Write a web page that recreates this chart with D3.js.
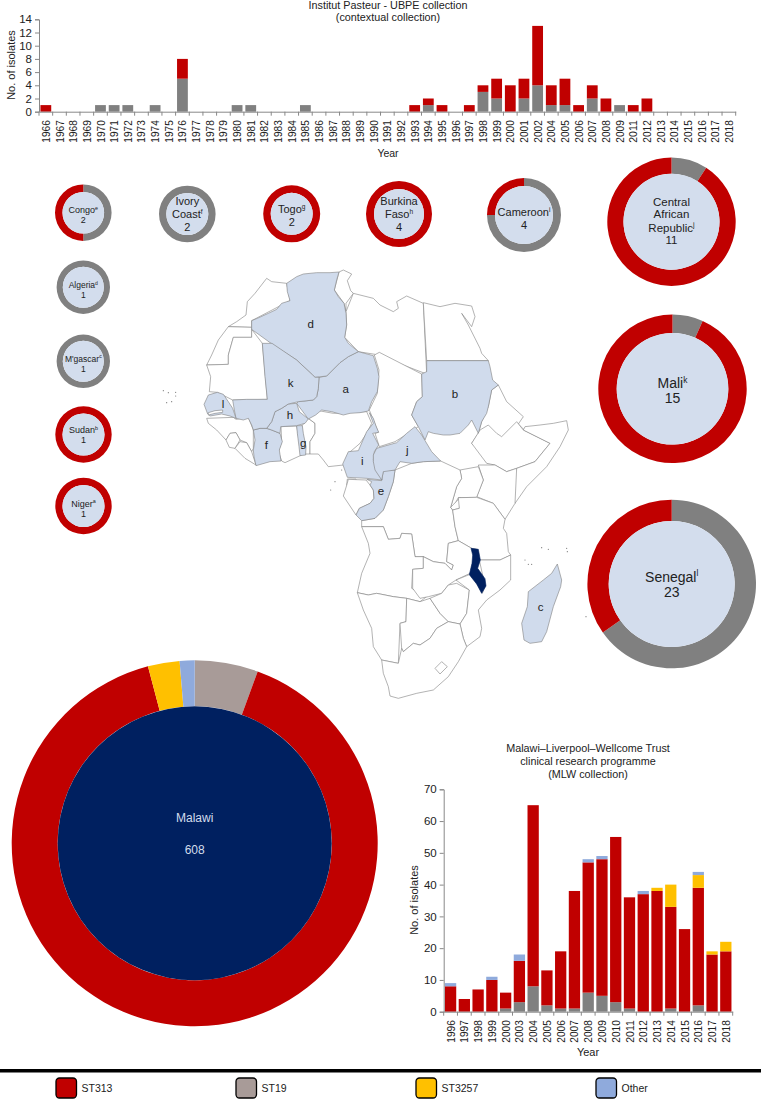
<!DOCTYPE html>
<html>
<head>
<meta charset="utf-8">
<script src="https://cdn.jsdelivr.net/npm/d3@7"></script>
<style>
body { margin: 0; background: #fff; }
svg { display: block; }
text { font-family: "Liberation Sans", Arial, sans-serif; fill: #222; }
</style>
</head>
<body>
<div id="my_dataviz"></div>
<script>
// Institut Pasteur collection, isolates per year
var pasteurYears = ["1966","1967","1968","1969","1970","1971","1972","1973","1974","1975","1976","1977","1978","1979","1980","1981","1982","1983","1984","1985","1986","1987","1988","1989","1990","1991","1992","1993","1994","1995","1996","1997","1998","1999","2000","2001","2002","2004","2005","2006","2007","2008","2009","2011","2012","2013","2014","2015","2016","2017","2018"];
var pasteurGrey = [0,0,0,0,1,1,1,0,1,0,5,0,0,0,1,1,0,0,0,1,0,0,0,0,0,0,0,0,1,0,0,0,3,2,0,2,4,1,1,0,2,0,1,0,0,0,0,0,0,0,0];
var pasteurRed =  [1,0,0,0,0,0,0,0,0,0,3,0,0,0,0,0,0,0,0,0,0,0,0,0,0,0,0,1,1,1,0,1,1,3,4,3,9,3,4,1,2,2,0,1,2,0,0,0,0,0,0];

// MLW collection, isolates per year
var mlwYears = ["1996","1997","1998","1999","2000","2003","2004","2005","2006","2007","2008","2009","2010","2011","2012","2013","2014","2015","2016","2017","2018"];
var mlwGrey =   [0,0,0,0,1,3,8,2,1,1,6,5,3,1,0,0,1,0,2,0,0];
var mlwRed =    [8,4,7,10,5,13,57,11,18,37,41,43,52,35,37,38,32,26,37,18,19];
var mlwYellow = [0,0,0,0,0,0,0,0,0,0,0,0,0,0,0,1,7,0,4,1,3];
var mlwOther =  [1,0,0,1,0,2,0,0,0,0,1,1,0,0,1,0,0,0,1,0,0];

// rings around the map
var countryLines = [["Congo"],["Ivory","Coast"],["Togo"],["Burkina","Faso"],["Cameroon"],["Central","African","Republic"],["Mali"],["Senegal"],["Algeria"],["M'gascar"],["Sudan"],["Niger"]];
var countryNotes = ["e","f","g","h","i","j","k","l","d","c","b","a"];
var countryTotals = [2,2,2,4,4,11,15,23,1,1,1,1];
var countryGrey =   [1,2,0,0,3,1,1,15,1,1,0,0];
var countryRed =    [1,0,2,4,1,10,14,8,0,0,1,1];

// Malawi ring, clockwise from twelve o'clock
var malawiLabels = ["ST19","ST313","ST3257","Other"];
var malawiCounts = [34,549,17,8];
var malawiTotal = 608;

var legendLabels = ["ST313","ST19","ST3257","Other"];

var RED = "#c00000", GREY = "#808080", ST19 = "#a89b98", YELLOW = "#ffc000", BLUE = "#8faadc";
var PALE = "#d3dded", NAVY = "#002060", AXIS = "#888";

var svg = d3.select("#my_dataviz").append("svg")
    .attr("width", 761).attr("height", 1099).attr("viewBox", "0 0 761 1099");

// ring drawing positions, same order as countryLines: cx, cy, outer, inner, font, line baselines
var ringLayout = [
    {cx:83.3, cy:212.7, o:28.3, i:20.8, f:9,  y:[213.3,222.7]},
    {cx:187.3,cy:214,   o:28.3, i:21,   f:11, y:[205,217.7,230.7]},
    {cx:291.7,cy:213.8, o:28.5, i:21,   f:11, y:[212.7,225.7]},
    {cx:399,  cy:214,   o:33,   i:25,   f:11, y:[205,218,231]},
    {cx:524,  cy:215,   o:37,   i:29,   f:11, y:[216,229]},
    {cx:671.5,cy:221.7, o:64.2, i:48,   f:11.5,y:[205.7,218.3,231.7,244.3]},
    {cx:672.5,cy:388.8, o:74.2, i:55.8, f:14, y:[388.3,403.3]},
    {cx:671.7,cy:584,   o:84.3, i:63,   f:14, y:[581.7,596.7]},
    {cx:83.3, cy:287.2, o:26.7, i:20.5, f:8.5,y:[288.3,297.7]},
    {cx:83.3, cy:361.3, o:26.7, i:20.5, f:8.5,y:[361.7,371.7]},
    {cx:83.5, cy:434.5, o:28.2, i:21,   f:9,  y:[433,443]},
    {cx:83.5, cy:506,   o:28.2, i:21,   f:9,  y:[506.7,516.7]}
];

function stackedBars(cfg) {
    var x = d3.scaleBand().domain(cfg.years).range([cfg.left, cfg.right])
        .paddingInner(cfg.pad).paddingOuter(cfg.pad / 2);
    var y = d3.scaleLinear().domain([0, cfg.max]).range([cfg.bottom, cfg.top]);

    var rows = cfg.years.map(function(yr, i) {
        var row = {year: yr};
        cfg.keys.forEach(function(k, j) { row[k] = cfg.series[j][i]; });
        return row;
    });
    var stacked = d3.stack().keys(cfg.keys)(rows);

    svg.append("g").selectAll("g").data(stacked).enter().append("g")
        .attr("fill", function(d, i) { return cfg.colors[i]; })
        .selectAll("rect").data(function(d) { return d; }).enter().append("rect")
        .attr("x", function(d) { return x(d.data.year); })
        .attr("y", function(d) { return y(d[1]); })
        .attr("width", x.bandwidth())
        .attr("height", function(d) { return y(d[0]) - y(d[1]); });

    // year labels hang under the bars, tick marks sit between bars
    var xAxis = svg.append("g").attr("transform", "translate(0," + cfg.bottom + ")")
        .call(d3.axisBottom(x).tickSize(0));
    xAxis.select(".domain").attr("stroke", AXIS);
    xAxis.selectAll("text")
        .attr("transform", "rotate(-90)")
        .attr("text-anchor", "end")
        .attr("x", -8.5).attr("y", 0).attr("dy", "0.35em")
        .attr("font-size", 11.5)
        .attr("textLength", 22.5).attr("lengthAdjust", "spacingAndGlyphs");
    var edges = cfg.years.map(function(d) { return x(d) - x.step() * cfg.pad / 2; });
    edges.push(cfg.right);
    xAxis.selectAll(".edge").data(edges).enter().append("line")
        .attr("class", "edge").attr("stroke", AXIS)
        .attr("x1", function(d) { return d; }).attr("x2", function(d) { return d; })
        .attr("y1", 0).attr("y2", 4);

    var yAxis = svg.append("g").attr("transform", "translate(" + cfg.left + ",0)")
        .call(d3.axisLeft(y).tickValues(cfg.ticks).tickSize(4).tickPadding(3));
    yAxis.selectAll(".domain, line").attr("stroke", AXIS);
    yAxis.selectAll("text").attr("font-size", 11.5);
}

stackedBars({
    years: pasteurYears, keys: ["grey","red"], series: [pasteurGrey, pasteurRed], colors: [GREY, RED],
    left: 39, right: 735.7, top: 19.3, bottom: 111.7, max: 14, ticks: d3.range(0, 15, 2), pad: 0.21
});
stackedBars({
    years: mlwYears, keys: ["grey","red","yellow","other"], series: [mlwGrey, mlwRed, mlwYellow, mlwOther],
    colors: [GREY, RED, YELLOW, BLUE],
    left: 443.7, right: 732.7, top: 789.3, bottom: 1011.7, max: 70, ticks: d3.range(0, 71, 10), pad: 0.18
});

function addText(str, px, py, size, rotate) {
    var t = svg.append("text").attr("text-anchor", "middle").attr("font-size", size).text(str);
    if (rotate) t.attr("transform", "translate(" + px + "," + py + ") rotate(-90)");
    else t.attr("x", px).attr("y", py);
    return t;
}
addText("Institut Pasteur - UBPE collection", 388, 8.5, 10.8);
addText("(contextual collection)", 388, 21, 10.8);
addText("Year", 388, 157, 10.5);
addText("No. of isolates", 15, 65, 11, true);
addText("Malawi\u2013Liverpool\u2013Wellcome Trust", 588, 751.7, 10.8);
addText("clinical research programme", 588, 764.5, 10.8);
addText("(MLW collection)", 588, 777.5, 10.8);
addText("Year", 588, 1055.7, 11);
addText("No. of isolates", 418, 900, 11, true);

// map outlines, each list in the pixel frame of its crop
function frame(x0, y0, pts) {
    return pts.map(function(p) { return [x0 + p[0] / 3, y0 + p[1] / 3]; });
}
function W(pts) { return frame(140, 260, pts); }   // west / north-west
function E(pts) { return frame(340, 270, pts); }   // north-east
function C(pts) { return frame(200, 390, pts); }   // gulf of guinea
function S(pts) { return frame(320, 420, pts); }   // south

var blankShapes = [
    W([[440,70],[395,65],[380,55],[345,100],[322,125],[318,165],[290,185],[265,200],[335,202],[335,182],[450,122]]),
    W([[265,200],[235,240],[215,285],[200,315],[265,313],[265,285],[280,232],[335,232],[335,202]]),
    W([[200,315],[212,350],[208,395],[232,397],[278,420],[382,418],[367,250],[335,208],[335,232],[280,232],[265,285],[265,313]]),
    W([[597,36],[610,30],[635,42],[622,62],[632,92],[640,100],[618,130],[618,155],[612,130],[583,90]]),
    W([[640,100],[700,115],[720,135],[760,155],[775,145],[770,125],[800,108],[850,130],[860,342],[705,283],[655,275],[614,232],[620,195],[618,155]]),
    E([[250,98],[300,110],[345,100],[395,108],[405,140],[395,170],[365,130],[385,165],[420,235],[425,250],[445,272],[260,272]]),
    E([[103,255],[118,247],[245,312],[247,380],[230,395],[215,435],[235,470],[205,490],[165,515],[118,530],[105,490],[115,487],[100,450],[88,420],[112,370],[117,300]]),
    E([[475,345],[500,395],[550,440],[535,462],[555,482],[580,510],[633,522],[600,580],[560,590],[500,590],[440,578],[415,535],[395,520],[415,490],[425,455],[445,410],[455,360]]),
    S([[590,5],[610,30],[690,70],[645,125],[590,145],[560,155],[525,135],[500,130],[470,90],[455,70],[480,30],[505,15],[530,40],[545,50]]),
    S([[610,30],[615,20],[660,15],[700,10],[740,2],[745,30],[720,80],[680,140],[620,200],[585,250],[560,225],[590,145],[645,125],[690,70]]),
    S([[475,135],[490,180],[470,230],[520,250],[555,298],[585,250],[590,145],[560,155],[525,135]]),
    S([[420,150],[475,140],[490,180],[470,232],[415,233],[403,255],[392,262],[410,200],[425,175]]),
    S([[225,150],[275,130],[310,125],[362,123],[420,150],[425,175],[410,200],[392,262],[398,270],[405,320],[415,362],[385,370],[380,425],[400,435],[395,450],[375,430],[340,425],[310,410],[285,410],[275,342],[245,340],[240,355],[205,358],[190,320],[125,320],[125,302],[165,295],[190,270],[205,230],[220,185]]),
    S([[392,262],[420,233],[418,265],[398,270]]),
    S([[415,233],[470,232],[520,250],[555,298],[550,325],[560,340],[565,395],[572,405],[540,420],[478,420],[472,388],[455,385],[415,362],[405,320],[398,270],[418,265]]),
    S([[125,320],[190,320],[205,358],[240,355],[245,340],[275,342],[285,410],[310,410],[310,445],[278,448],[275,505],[320,530],[300,545],[260,535],[220,530],[170,520],[145,525],[112,518],[125,460],[150,400],[145,370]]),
    S([[278,448],[310,445],[310,410],[340,425],[375,430],[395,450],[400,435],[380,425],[385,370],[415,362],[455,385],[462,405],[458,430],[450,460],[408,480],[385,495],[365,520],[325,530],[300,535],[278,505]]),
    S([[112,518],[145,525],[170,520],[220,530],[260,535],[258,605],[240,610],[235,730],[185,720],[160,680],[155,625],[130,570]]),
    S([[260,535],[300,545],[330,535],[360,580],[385,605],[350,625],[330,655],[300,675],[280,670],[250,695],[245,685],[240,610],[258,605]]),
    S([[330,535],[365,520],[385,495],[410,490],[448,510],[440,580],[420,612],[385,605],[360,580]]),
    S([[450,463],[470,490],[487,520],[496,495],[490,475],[478,420],[540,420],[572,405],[572,480],[540,510],[500,540],[475,570],[485,625],[480,650],[440,680],[430,655],[420,612],[440,580],[448,510],[408,480]]),
    S([[185,720],[235,730],[245,685],[250,695],[280,670],[300,675],[330,655],[350,625],[385,605],[420,612],[430,655],[440,680],[415,725],[385,770],[340,810],[290,820],[235,835],[210,828],[205,800],[190,760]]),
    S([[345,745],[365,725],[382,740],[360,762]]),
    C([[305,108],[325,85],[345,100],[345,130],[330,155],[330,192],[315,192]]),
    C([[330,192],[330,155],[345,130],[345,100],[325,85],[345,60],[400,70],[500,65],[515,100],[500,130],[480,160],[445,190],[430,225],[385,230],[370,210],[355,192]]),
    C([[243,110],[290,108],[305,195],[255,218],[245,213],[235,185],[245,155]]),
    C([[20,85],[100,82],[108,88],[145,82],[160,120],[160,175],[155,185],[140,158],[120,150],[108,128],[90,130],[78,150],[50,120],[25,100]]),
    C([[78,150],[90,130],[108,128],[120,150],[105,175],[88,172]]),
    C([[105,175],[120,155],[140,158],[155,185],[168,225],[135,205]]),
    S([[82,177],[108,177],[108,196],[80,196]]),
    S([[85,178],[138,180],[150,195],[160,210],[162,235],[150,250],[118,265],[108,285],[70,228],[80,196]])
];

var shadedShapes = {
    a: W([[537,352],[560,348],[600,308],[625,290],[655,275],[700,287],[712,325],[717,350],[712,395],[695,425],[685,453],[660,458],[630,460],[610,465],[575,455],[545,450],[527,465],[505,477],[470,430],[475,425],[520,420],[530,410],[535,385]]),
    b: E([[260,272],[445,272],[450,290],[458,330],[475,345],[455,360],[445,410],[440,430],[425,455],[415,490],[395,450],[385,465],[360,490],[330,495],[310,495],[280,490],[265,485],[255,510],[235,470],[215,435],[230,395],[247,380],[245,312],[260,305]]),
    c: S([[712,432],[725,480],[722,500],[700,560],[680,635],[665,665],[630,670],[612,660],[605,610],[622,560],[625,515],[670,480],[695,460]]),
    d: W([[335,182],[352,175],[385,160],[410,148],[425,130],[450,122],[442,95],[440,70],[470,50],[490,42],[530,38],[570,38],[597,36],[590,60],[583,90],[595,110],[612,130],[618,160],[620,195],[614,232],[625,250],[655,275],[625,290],[600,308],[560,348],[525,352],[518,345],[470,300],[400,255],[335,208]]),
    e: S([[140,178],[185,182],[190,152],[225,150],[220,185],[205,230],[190,270],[165,295],[125,302],[108,285],[118,265],[150,250],[162,235],[160,210],[150,195],[155,185]]),
    f: W([[340,510],[360,505],[380,505],[395,510],[420,520],[427,545],[418,570],[423,603],[390,605],[348,617],[342,590],[340,570],[345,540]]),
    g: W([[470,497],[487,497],[490,520],[498,560],[497,585],[480,587],[477,560],[472,520]]),
    h: W([[445,432],[470,430],[478,455],[505,477],[495,490],[470,497],[422,500],[420,520],[395,510],[380,505],[395,485],[405,455],[425,445]]),
    i: W([[688,458],[700,475],[708,498],[716,517],[698,520],[716,555],[703,575],[700,600],[712,630],[726,660],[680,655],[622,652],[608,612],[625,575],[655,572],[680,515],[700,490]]),
    j: S([[160,105],[170,85],[230,68],[260,40],[285,20],[305,45],[335,95],[362,123],[310,125],[275,130],[240,125],[225,150],[190,155],[185,180],[165,150],[160,125]]),
    k: W([[367,250],[396,250],[470,300],[518,345],[525,352],[537,352],[535,385],[530,410],[520,420],[475,425],[445,432],[425,445],[405,455],[395,485],[380,505],[360,505],[340,510],[335,495],[325,475],[310,480],[288,475],[283,450],[278,420],[320,418],[382,418],[375,350]]),
    l: W([[192,433],[205,405],[232,397],[250,403],[265,425],[278,445],[288,475],[270,468],[245,462],[210,468],[203,462]])
};
var gambia = W([[205,458],[225,452],[248,450],[248,457],[225,460],[205,465]]);
var malawiShape = S([[453,385],[475,388],[481,420],[473,445],[495,476],[498,498],[485,520],[470,492],[448,464],[456,430],[458,405]]);
var islands = W([[70,392],[85,398],[107,397],[107,408],[80,428],[95,425],[605,630],[585,665],[572,690]])
    .concat(S([[615,420],[625,433],[635,433],[665,383],[685,388],[740,385],[742,395],[798,590]]));

var outline = d3.line().curve(d3.curveLinearClosed);
var mapG = svg.append("g").attr("stroke", "#808080").attr("stroke-width", 0.6).attr("stroke-linejoin", "round");
mapG.selectAll(".blank").data(blankShapes).enter().append("path")
    .attr("class", "blank").attr("d", outline).attr("fill", "#fff");
mapG.selectAll(".shaded").data(Object.keys(shadedShapes)).enter().append("path")
    .attr("class", "shaded").attr("d", function(k) { return outline(shadedShapes[k]); }).attr("fill", "#d0dbec");
mapG.append("path").attr("d", outline(gambia)).attr("fill", "#fff");
mapG.append("path").attr("d", outline(malawiShape)).attr("fill", NAVY).attr("stroke", NAVY);
mapG.selectAll(".isle").data(islands).enter().append("circle")
    .attr("class", "isle").attr("cx", function(d) { return d[0]; }).attr("cy", function(d) { return d[1]; })
    .attr("r", 0.6).attr("fill", "#777").attr("stroke", "none");

// letters on the map
var mapLetters = ["a","b","c","d","e","f","g","h","i","j","k","l"];
var letterSpots = [[345.7,389],[455,393.7],[540.7,606.7],[310.7,324.3],[381,490.7],[266.3,445],[303.3,443],[290,415],[362.3,461],[407.3,450],[290.7,383.3],[223,404]];
svg.append("g").selectAll("text").data(mapLetters).enter().append("text")
    .attr("text-anchor", "middle").attr("dy", "0.35em").attr("font-size", 11.5)
    .attr("x", function(d, i) { return letterSpots[i][0]; })
    .attr("y", function(d, i) { return letterSpots[i][1]; })
    .text(function(d) { return d; });

// rings
var pie = d3.pie().sort(null).value(function(d) { return d.v; });
function ring(cx, cy, outer, inner, parts, core) {
    var g = svg.append("g").attr("transform", "translate(" + cx + "," + cy + ")");
    var arc = d3.arc().innerRadius(inner).outerRadius(outer);
    g.selectAll("path").data(pie(parts)).enter().append("path")
        .attr("d", arc).attr("fill", function(d) { return d.data.c; });
    g.append("circle").attr("r", inner).attr("fill", core);
}

countryLines.forEach(function(lines, i) {
    var lay = ringLayout[i];
    ring(lay.cx, lay.cy, lay.o, lay.i, [{v: countryGrey[i], c: GREY}, {v: countryRed[i], c: RED}], PALE);
    lines.forEach(function(line, j) {
        var t = svg.append("text").attr("text-anchor", "middle").attr("font-size", lay.f)
            .attr("x", lay.cx).attr("y", lay.y[j]).text(line);
        if (j == lines.length - 1) {
            t.append("tspan").attr("dy", -lay.f * 0.38).attr("font-size", lay.f * 0.6).text(countryNotes[i]);
        }
    });
    svg.append("text").attr("text-anchor", "middle").attr("font-size", lay.f)
        .attr("x", lay.cx).attr("y", lay.y[lines.length]).text(countryTotals[i]);
});

var malawiColors = [ST19, RED, YELLOW, BLUE];
ring(194.7, 843.3, 183, 137, malawiCounts.map(function(v, i) { return {v: v, c: malawiColors[i], k: malawiLabels[i]}; }), NAVY);
addText("Malawi", 194.7, 822.3, 12).style("fill", PALE);
addText(malawiTotal, 194.7, 854, 12).style("fill", PALE);

// legend
svg.append("rect").attr("x", 0).attr("y", 1069).attr("width", 761).attr("height", 3.5).attr("fill", "#000");
var legendX = d3.scalePoint().domain(legendLabels).range([56, 596]);
var legendColors = [RED, ST19, YELLOW, BLUE];
var legend = svg.append("g").selectAll("g").data(legendLabels).enter().append("g")
    .attr("transform", function(d) { return "translate(" + legendX(d) + ",1078)"; });
legend.append("rect").attr("width", 20.5).attr("height", 20).attr("rx", 3.5)
    .attr("stroke", "#000").attr("stroke-width", 1.3)
    .attr("fill", function(d, i) { return legendColors[i]; });
legend.append("text").attr("x", 25.5).attr("y", 14).attr("font-size", 10.5)
    .text(function(d) { return d; });
</script>
</body>
</html>
